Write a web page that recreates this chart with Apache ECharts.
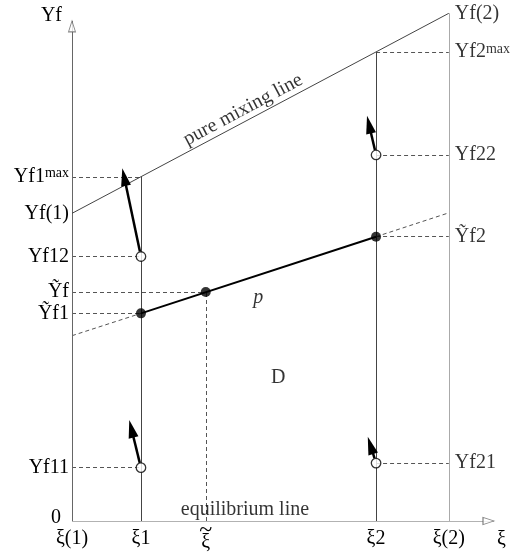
<!DOCTYPE html>
<html>
<head>
<meta charset="utf-8">
<script src="https://cdn.jsdelivr.net/npm/echarts@6/dist/echarts.min.js"></script>
<style>
  html, body { margin: 0; padding: 0; background: #fff; }
  #chart { width: 524px; height: 557px; }
</style>
</head>
<body>
<div id="chart"></div>
<script>
// Reaction coordinate positions (ξ axis); '~' prefix marks a tilde accent
const xiLabels = ['ξ(1)', 'ξ1', '~ξ', 'ξ2', 'ξ(2)'];
const xiValues = [0, 1.83, 3.55, 8.07, 10];

// Yf levels labelled on the left (at ξ(1)) and on the right (at ξ(2))
const leftNames = ['Yf1^max', 'Yf(1)', 'Yf12', 'Ỹf', 'Ỹf1', 'Yf11', '0'];
const leftValues = [6.78, 6.06, 5.21, 4.51, 4.09, 1.05, 0];
const rightNames = ['Yf(2)', 'Yf2^max', 'Yf22', 'Ỹf2', 'Yf21'];
const rightValues = [10, 9.24, 7.21, 5.60, 1.14];

// Guide lines: [Yf level, ξ where the guide meets the diagram]
const leftGuides = [[6.78, 1.83], [5.21, 1.83], [4.51, 3.55], [4.09, 1.83], [1.05, 1.83]];
const rightGuides = [[9.24, 8.07], [7.21, 8.07], [5.60, 8.07], [1.14, 8.07]];

// Verticals at ξ1, ξ2 (up to the mixing line) and at ξ(2)
const verticals = [[1.83, 6.78], [8.07, 9.24]];
const boundary = [10, 10];
const xiTildeDrop = [3.55, 4.51];

// Pure mixing line between Yf(1) and Yf(2)
const mixingLine = [[0, 6.06], [10, 10]];

// Operating line p through the two feed states, with dashed extensions
const pLine = [[1.83, 4.09], [8.07, 5.60]];
const pExtLeft = [[0, 3.65], [1.83, 4.09]];
const pExtRight = [[8.07, 5.60], [10, 6.07]];
const pPoints = [[1.83, 4.09], [3.55, 4.51], [8.07, 5.60]];

// Feed states (open circles) and the direction they move in
const feedPoints = [[1.83, 5.21], [8.07, 7.21], [1.83, 1.05], [8.07, 1.14]];
const arrowTips = [[1.335, 6.95], [7.83, 7.98], [1.52, 1.99], [7.85, 1.66]];

// Axis extents (arrow tips)
const xAxisEnd = 11.2;
const yAxisEnd = 9.85;

// Free text annotations: [x, y, text]
const notes = [[4.59, 0.22, 'equilibrium line'], [5.47, 2.82, 'D']];
const pNote = [4.94, 4.39, 'p'];
const mixNote = [4.54, 8.10, 'pure mixing line'];

const FONT = "'Liberation Serif', 'Times New Roman', serif";
const richStyles = {
  sup: { fontFamily: FONT, fontSize: 14, color: '#000', verticalAlign: 'top', padding: [0, 0, 4, 0] },
  zero: { fontFamily: FONT, fontSize: 20, color: '#000', padding: [0, 8, 6, 0] },
  acc: { fontFamily: FONT, fontSize: 24, color: '#000', lineHeight: 3, align: 'center' },
  base: { fontFamily: FONT, fontSize: 20, color: '#000', lineHeight: 21, align: 'center' }
};
const fmtSup = s => s.replace(/\^(\w+)/, '{sup|$1}');
const fmtXi = s => s[0] === '~' ? '{acc|~}\n{base|' + s.slice(1) + '}' : s;
const seg = (a, b) => ({ coords: [a, b] });

const chart = echarts.init(document.getElementById('chart'), null, { renderer: 'canvas' });

const dashedSegs = []
  .concat(leftGuides.map(g => seg([0, g[0]], [g[1], g[0]])))
  .concat(rightGuides.map(g => seg([g[1], g[0]], [10, g[0]])))
  .concat([seg([xiTildeDrop[0], 0], xiTildeDrop), seg(pExtLeft[0], pExtLeft[1]), seg(pExtRight[0], pExtRight[1])]);

const option = {
  animation: false,
  backgroundColor: '#fff',
  textStyle: { fontFamily: FONT },
  grid: { left: 72, top: 13.3, width: 422, height: 507.7 },
  xAxis: {
    type: 'value', min: 0, max: xAxisEnd,
    name: 'ξ', nameLocation: 'end', nameGap: 3,
    nameTextStyle: { fontFamily: FONT, fontSize: 20, color: '#000', align: 'left', verticalAlign: 'top', padding: [9, 0, 0, 0] },
    axisLine: { show: false }, axisTick: { show: false }, splitLine: { show: false },
    axisLabel: {
      customValues: xiValues, margin: 8,
      fontFamily: FONT, fontSize: 20, color: '#000', rich: richStyles,
      formatter: v => fmtXi(xiLabels[xiValues.findIndex(x => Math.abs(x - v) < 1e-6)])
    }
  },
  yAxis: {
    type: 'value', min: 0, max: 10,
    name: 'Yf', nameLocation: 'end', nameGap: -2,
    nameTextStyle: { fontFamily: FONT, fontSize: 20, color: '#000', align: 'right', verticalAlign: 'middle', padding: [0, 10, 0, 0] },
    axisLine: { show: false }, axisTick: { show: false }, splitLine: { show: false },
    axisLabel: {
      customValues: leftValues, margin: 3,
      fontFamily: FONT, fontSize: 20, color: '#000', rich: richStyles,
      formatter: v => {
        const n = leftNames[leftValues.findIndex(y => Math.abs(y - v) < 1e-6)];
        return n === '0' ? '{zero|0}' : fmtSup(n);
      }
    }
  },
  series: [
    { // dashed guides
      type: 'lines', coordinateSystem: 'cartesian2d', silent: true, z: 1,
      lineStyle: { color: '#555', width: 1, type: [4, 3], opacity: 1 },
      data: dashedSegs
    },
    { // axes
      type: 'lines', coordinateSystem: 'cartesian2d', silent: true, z: 2,
      lineStyle: { color: '#666', width: 1, opacity: 1 },
      data: [seg([0, 0], [0, yAxisEnd]), seg([0, 0], [xAxisEnd, 0])]
    },
    { // ξ(2) boundary
      type: 'lines', coordinateSystem: 'cartesian2d', silent: true, z: 2,
      lineStyle: { color: '#aaa', width: 1, opacity: 1 },
      data: [seg([boundary[0], 0], boundary)]
    },
    { // ξ1, ξ2 verticals and the pure mixing line
      type: 'lines', coordinateSystem: 'cartesian2d', silent: true, z: 2,
      lineStyle: { color: '#444', width: 1, opacity: 1 },
      data: verticals.map(v => seg([v[0], 0], v)).concat([seg(mixingLine[0], mixingLine[1])])
    },
    { // operating line p
      type: 'lines', coordinateSystem: 'cartesian2d', silent: true, z: 3,
      lineStyle: { color: '#000', width: 2, opacity: 1 },
      data: [seg(pLine[0], pLine[1])]
    },
    { // axis arrowheads (hollow)
      type: 'scatter', silent: true, z: 4,
      symbol: 'triangle',
      itemStyle: { color: '#fff', borderColor: '#666', borderWidth: 1 },
      data: [
        { value: [0, yAxisEnd], symbolSize: [7, 11], symbolOffset: [0, 5.5] },
        { value: [xAxisEnd, 0], symbolSize: [7, 11], symbolRotate: -90, symbolOffset: [-5.5, 0] }
      ]
    },
    { // points on p
      type: 'scatter', silent: true, z: 5,
      symbol: 'circle', symbolSize: 10,
      itemStyle: { color: '#000' },
      data: pPoints
    },
    { // feed states
      type: 'scatter', silent: true, z: 5,
      symbol: 'circle', symbolSize: 9.5,
      itemStyle: { color: '#fff', borderColor: '#000', borderWidth: 1.3 },
      data: feedPoints
    },
    { // movement arrows
      type: 'custom', silent: true, z: 6,
      data: feedPoints.map((p, i) => [p[0], p[1], arrowTips[i][0], arrowTips[i][1]]),
      renderItem: (params, api) => {
        const s = api.coord([api.value(0), api.value(1)]);
        const t = api.coord([api.value(2), api.value(3)]);
        const dx = t[0] - s[0], dy = t[1] - s[1];
        const L = Math.hypot(dx, dy), ux = dx / L, uy = dy / L;
        const headLen = 18, headHalf = 5, r = 5;
        const bx = t[0] - ux * headLen, by = t[1] - uy * headLen;
        const nx = -uy, ny = ux;
        return {
          type: 'group',
          children: [
            { type: 'line', shape: { x1: s[0] + ux * r, y1: s[1] + uy * r, x2: bx + ux * 2, y2: by + uy * 2 },
              style: { stroke: '#000', lineWidth: 2.5 } },
            { type: 'polygon', shape: { points: [[t[0], t[1]], [bx + nx * headHalf, by + ny * headHalf], [bx - nx * headHalf, by - ny * headHalf]] },
              style: { fill: '#000' } }
          ]
        };
      }
    },
    { // labels at ξ(2)
      type: 'scatter', silent: true, z: 7, symbolSize: 0,
      data: rightValues.map((v, i) => ({ value: [10, v], name: rightNames[i] })),
      label: {
        show: true, position: 'right', distance: 6,
        fontFamily: FONT, fontSize: 20, color: '#000', rich: richStyles,
        formatter: p => fmtSup(p.name)
      }
    },
    { // text annotations
      type: 'scatter', silent: true, z: 7, symbolSize: 0,
      data: notes.map(n => ({ value: [n[0], n[1]], name: n[2] })),
      label: { show: true, position: 'inside', fontFamily: FONT, fontSize: 20, color: '#000', formatter: p => p.name }
    },
    {
      type: 'scatter', silent: true, z: 7, symbolSize: 0,
      data: [{ value: [pNote[0], pNote[1]], name: pNote[2] }],
      label: { show: true, position: 'inside', fontFamily: FONT, fontSize: 20, fontStyle: 'italic', color: '#000', formatter: p => p.name }
    },
    {
      id: 'mixNote', type: 'scatter', silent: true, z: 7, symbolSize: 0,
      data: [{ value: [mixNote[0], mixNote[1]], name: mixNote[2] }],
      label: { show: true, position: 'inside', fontFamily: FONT, fontSize: 20, color: '#000', rotate: 0, formatter: p => p.name }
    }
  ]
};

chart.setOption(option);

// Rotate the mixing-line caption to follow the line on screen
const a = chart.convertToPixel({ gridIndex: 0 }, mixingLine[0]);
const b = chart.convertToPixel({ gridIndex: 0 }, mixingLine[1]);
const angle = Math.atan2(a[1] - b[1], b[0] - a[0]) * 180 / Math.PI;
chart.setOption({ series: [{ id: 'mixNote', label: { rotate: angle } }] });
</script>
</body>
</html>
